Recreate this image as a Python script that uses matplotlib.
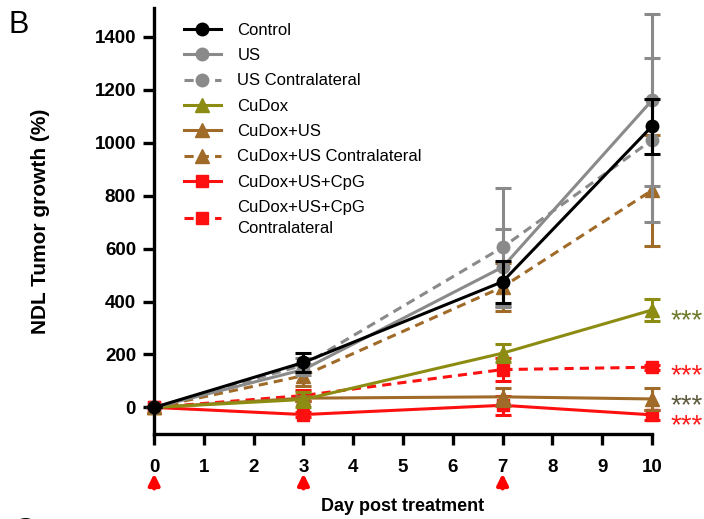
#!/usr/bin/env python3
"""NDL tumor growth after treatment, recreated as a line chart with error bars."""

import matplotlib

matplotlib.use("Agg")
import matplotlib.pyplot as plt

plt.rcParams["font.family"] = ["Liberation Sans", "DejaVu Sans"]

DAYS = [0, 3, 7, 10]

CONTROL = [0, 170, 475, 1062]
CONTROL_ERR = [0, 35, 80, 105]
US = [0, 143, 530, 1160]
US_ERR = [0, 20, 145, 325]
US_CONTRA = [0, 160, 605, 1010]
US_CONTRA_ERR = [0, 25, 225, 310]
CUDOX = [0, 30, 205, 368]
CUDOX_ERR = [0, 30, 33, 42]
CUDOX_US = [0, 35, 40, 32]
CUDOX_US_ERR = [0, 10, 35, 40]
CUDOX_US_CONTRA = [0, 120, 455, 820]
CUDOX_US_CONTRA_ERR = [0, 40, 90, 210]
CPG = [0, -27, 8, -28]
CPG_ERR = [0, 10, 35, 20]
CPG_CONTRA = [0, 45, 143, 152]
CPG_CONTRA_ERR = [0, 20, 45, 10]

TREATMENT_DAYS = [0, 3, 7]
# baseline positions of the significance stars (data units)
STAR_LEVELS = [300, 92, -22, -97]
STAR_COLORS = ["#6f7a2c", "#ff1a1a", "#5d5a3e", "#ff1a1a"]

GRAY = "#8a8a8a"
OLIVE = "#8c8c12"
BROWN = "#a06a28"
RED = "#ff1010"

SERIES = [
    ("Control", CONTROL, CONTROL_ERR, "black", "-", "o"),
    ("US", US, US_ERR, GRAY, "-", "o"),
    ("US Contralateral", US_CONTRA, US_CONTRA_ERR, GRAY, "--", "o"),
    ("CuDox", CUDOX, CUDOX_ERR, OLIVE, "-", "^"),
    ("CuDox+US", CUDOX_US, CUDOX_US_ERR, BROWN, "-", "^"),
    ("CuDox+US Contralateral", CUDOX_US_CONTRA, CUDOX_US_CONTRA_ERR, BROWN, "--", "^"),
    ("CuDox+US+CpG", CPG, CPG_ERR, RED, "-", "s"),
    ("CuDox+US+CpG\nContralateral", CPG_CONTRA, CPG_CONTRA_ERR, RED, "--", "s"),
]


def main() -> None:
    fig = plt.figure(figsize=(7.04, 5.19), dpi=100)
    ax = fig.add_axes([0.219, 0.164, 0.707, 0.821])

    # draw back to front so control ends up on top like the original
    order = [6, 7, 4, 3, 5, 2, 1, 0]
    handles = {}
    for i in order:
        label, vals, err, color, ls, marker = SERIES[i]
        ms = 9 if marker != "^" else 10
        ax.errorbar(DAYS, vals, yerr=err, fmt="none", ecolor=color,
                    elinewidth=2.2, capsize=6, capthick=2.2, clip_on=False)
        (ln,) = ax.plot(DAYS, vals, color=color, linestyle=ls, linewidth=2.2,
                        marker=marker, markersize=ms, label=label, clip_on=False)
        if ls == "--":
            ln.set_dashes((3, 2))
        handles[i] = ln

    ax.set_xlim(0, 10)
    ax.set_ylim(-100, 1510)
    ax.set_xticks(range(0, 11))
    ax.set_yticks(range(0, 1401, 200))
    for side in ("top", "right"):
        ax.spines[side].set_visible(False)
    for side in ("left", "bottom"):
        ax.spines[side].set_linewidth(2.4)
    ax.tick_params(width=2.4, length=8, labelsize=13.5)
    ax.tick_params(axis="x", pad=10)
    ax.tick_params(axis="y", pad=5)
    for lab in ax.get_xticklabels() + ax.get_yticklabels():
        lab.set_fontweight("bold")

    ax.set_ylabel("NDL Tumor growth (%)", fontsize=15, fontweight="bold", labelpad=32)
    ax.set_xlabel("Day post treatment", fontsize=13, fontweight="bold", labelpad=16)

    for d in TREATMENT_DAYS:
        ax.annotate("", xy=(d, -0.093), xycoords=("data", "axes fraction"),
                    xytext=(d, -0.128), textcoords=("data", "axes fraction"),
                    arrowprops=dict(arrowstyle="-|>", color="red", lw=3,
                                    mutation_scale=16, shrinkA=0, shrinkB=0))

    for level, color in zip(STAR_LEVELS, STAR_COLORS):
        ax.text(10.38, level, "***", color=color, fontsize=20, va="baseline",
                ha="left", clip_on=False)

    leg = ax.legend([handles[i] for i in range(8)], [s[0] for s in SERIES],
                    loc="upper left", bbox_to_anchor=(0.03, 1.0), frameon=False,
                    fontsize=12, handlelength=2.2, labelspacing=0.62,
                    handletextpad=1.0)
    for t in leg.get_texts():
        t.set_linespacing(1.5)

    fig.text(0.012, 0.98, "B", fontsize=22, va="top", ha="left")
    fig.text(0.02, -0.025, "C", fontsize=22, va="center", ha="left", fontweight="bold")

    fig.savefig("out.png", dpi=100)


if __name__ == "__main__":
    main()
